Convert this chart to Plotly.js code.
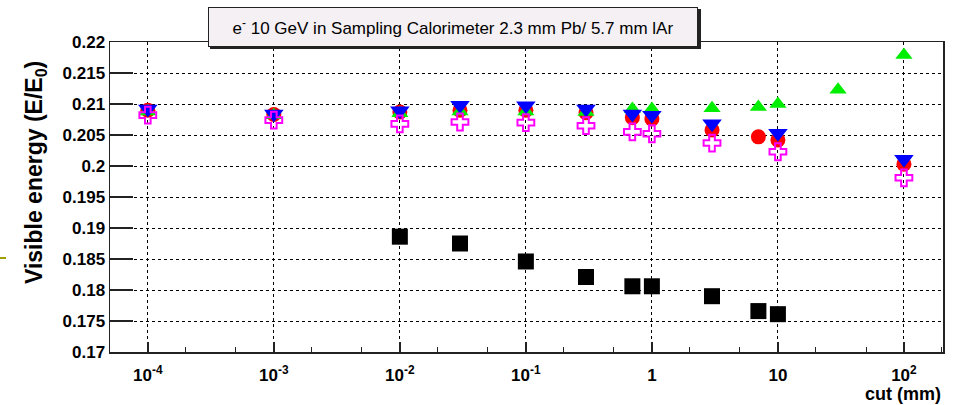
<!DOCTYPE html>
<html>
<head>
<meta charset="utf-8">
<script src="https://cdn.plot.ly/plotly-3.0.1.min.js"></script>
<style>html,body{margin:0;padding:0;background:#fff;}#chart{width:955px;height:405px;}</style>
</head>
<body>
<div id="chart"></div>
<script>
// ---- data ----
const cutsBlack = [0.01, 0.03, 0.1, 0.3, 0.7, 1, 3, 7, 10];
const eBlack    = [0.1886, 0.1875, 0.1846, 0.1821, 0.1806, 0.1806, 0.1790, 0.1766, 0.1761];

const cutsRed = [1e-4, 1e-3, 0.01, 0.03, 0.1, 0.3, 0.7, 1, 3, 7, 10, 100];
const eRed    = [0.2090, 0.2083, 0.2087, 0.2090, 0.2090, 0.2086, 0.2078, 0.2076, 0.2058, 0.2047, 0.2042, 0.2003];

const cutsGreen = [1e-4, 1e-3, 0.01, 0.03, 0.1, 0.3, 0.7, 1, 3, 7, 10, 30, 100];
const eGreen    = [0.2088, 0.2082, 0.2085, 0.2088, 0.2088, 0.2087, 0.2092, 0.2092, 0.2093, 0.2095, 0.2100, 0.2123, 0.2179];

const cutsBlue = [1e-4, 1e-3, 0.01, 0.03, 0.1, 0.3, 0.7, 1, 3, 10, 100];
const eBlue    = [0.2092, 0.2084, 0.2089, 0.2098, 0.2097, 0.2092, 0.2084, 0.2082, 0.2068, 0.2053, 0.2011];

const cutsMagenta = [1e-4, 1e-3, 0.01, 0.03, 0.1, 0.3, 0.7, 1, 3, 10, 100];
const eMagenta    = [0.2082, 0.2074, 0.2068, 0.2071, 0.2070, 0.2065, 0.2055, 0.2052, 0.2037, 0.2023, 0.1981];

const xTickVals = [1e-4, 1e-3, 1e-2, 1e-1, 1, 10, 100];
const xTickText = ['10<sup>-4</sup>', '10<sup>-3</sup>', '10<sup>-2</sup>', '10<sup>-1</sup>', '1', '10', '10<sup>2</sup>'];
const yTickVals = [0.17, 0.175, 0.18, 0.185, 0.19, 0.195, 0.2, 0.205, 0.21, 0.215, 0.22];
const yTickText = ['0.17', '0.175', '0.18', '0.185', '0.19', '0.195', '0.2', '0.205', '0.21', '0.215', '0.22'];

const titleText = 'e<sup>-</sup> 10 GeV in Sampling Calorimeter 2.3 mm Pb/ 5.7 mm lAr';
const yTitle = 'Visible energy (E/E<sub>0</sub>)';
const xTitle = 'cut (mm)';

// ---- plot ----
const FONT = 'Liberation Sans, Arial, sans-serif';
function tr(x, y, symbol, color, size) {
  return {
    x: x, y: y, type: 'scatter', mode: 'markers', hoverinfo: 'x+y',
    marker: {symbol: symbol, color: color, size: size, line: {width: 0}}
  };
}
const traces = [
  tr(cutsBlack, eBlack, 'square', '#000000', 16),
  tr(cutsRed, eRed, 'circle', '#ff0000', 15),
  tr(cutsGreen, eGreen, 'triangle-up', '#00ee00', 15),
  tr(cutsBlue, eBlue, 'triangle-down', '#0000ff', 17),
  {x: cutsMagenta, y: eMagenta, type: 'scatter', mode: 'markers',
   marker: {symbol: 'cross-open', color: '#ff00ff', size: 14, line: {width: 2, color: '#ff00ff'}}}
];

const layout = {
  width: 955, height: 405,
  margin: {l: 110, r: 12, t: 42, b: 53},
  paper_bgcolor: '#ffffff', plot_bgcolor: '#ffffff',
  showlegend: false,
  font: {family: FONT, color: '#000'},
  xaxis: {
    type: 'log', range: [-4.30, 2.31],
    tickvals: xTickVals, ticktext: xTickText,
    ticks: 'inside', ticklen: 10, tickwidth: 1.5, tickcolor: '#222',
    tickfont: {family: FONT, size: 17, weight: 'bold', color: '#000'},
    ticklabelstandoff: 7,
    showgrid: true, gridcolor: '#000', griddash: 'dot', gridwidth: 1,
    showline: true, linecolor: '#222', linewidth: 1.5, mirror: true,
    minor: {ticks: 'inside', ticklen: 5, tickwidth: 1, tickcolor: '#222', showgrid: false},
    zeroline: false
  },
  yaxis: {
    range: [0.17, 0.22],
    tickvals: yTickVals, ticktext: yTickText,
    ticks: 'inside', ticklen: 23, tickwidth: 1.5, tickcolor: '#222',
    tickfont: {family: FONT, size: 17, weight: 'bold', color: '#000'},
    showgrid: true, gridcolor: '#000', griddash: 'dot', gridwidth: 1,
    showline: true, linecolor: '#222', linewidth: 1.5, mirror: true,
    zeroline: false
  },
  shapes: [
    {type: 'rect', xref: 'paper', yref: 'paper',
     x0: (210 - 110) / 833, x1: (701 - 110) / 833, y0: (352 - 49) / 310, y1: (352 - 9) / 310,
     fillcolor: '#222', line: {width: 0}, layer: 'above'},
    {type: 'line', xref: 'paper', yref: 'paper',
     x0: -110 / 833, x1: -104 / 833, y0: (352 - 258) / 310, y1: (352 - 258) / 310,
     line: {color: '#a0a000', width: 2}}
  ],
  annotations: [
    {text: titleText, xref: 'paper', yref: 'paper',
     x: (453 - 110) / 833, y: (352 - 27) / 310, xanchor: 'center', yanchor: 'middle',
     showarrow: false, width: 486, height: 36, align: 'center', valign: 'middle',
     bgcolor: '#f4f0f4', bordercolor: '#222', borderwidth: 1, borderpad: 1,
     font: {family: FONT, size: 17, color: '#000'}},
    {text: yTitle, xref: 'paper', yref: 'paper',
     x: (35 - 110) / 833, y: (352 - 173) / 310, xanchor: 'center', yanchor: 'middle',
     textangle: -90, showarrow: false,
     font: {family: FONT, size: 23, weight: 'bold', color: '#000'}},
    {text: xTitle, xref: 'paper', yref: 'paper',
     x: 1, y: (352 - 394) / 310, xanchor: 'right', yanchor: 'middle',
     showarrow: false,
     font: {family: FONT, size: 18, weight: 'bold', color: '#000'}}
  ]
};

Plotly.newPlot('chart', traces, layout, {displayModeBar: false, staticPlot: true});
</script>
</body>
</html>
